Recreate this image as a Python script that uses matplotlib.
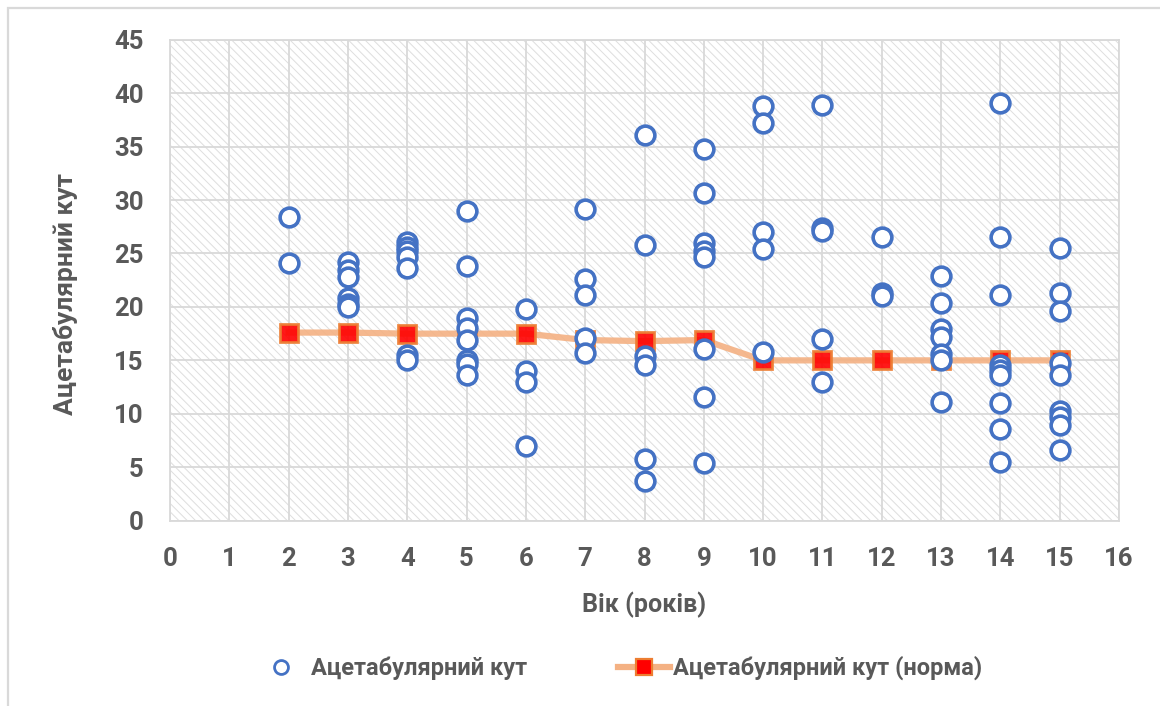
import matplotlib
matplotlib.use("Agg")
import matplotlib.pyplot as plt
from matplotlib.lines import Line2D
from matplotlib.patches import Rectangle

# Observed acetabular angles by age (years)
obs_age = ([2] * 2 + [3] * 6 + [4] * 7 + [5] * 8 + [6] * 4 + [7] * 5 + [8] * 6
           + [9] * 8 + [10] * 5 + [11] * 5 + [12] * 3 + [13] * 7 + [14] * 9 + [15] * 9)
obs_angle = [
    28.4, 24.1,
    24.2, 23.5, 22.8, 20.8, 20.3, 20.0,
    26.1, 25.6, 25.2, 24.7, 23.6, 15.5, 15.0,
    29.0, 23.8, 19.0, 18.0, 16.9, 15.0, 14.7, 13.6,
    19.8, 14.0, 13.0, 7.0,
    29.2, 22.6, 21.1, 17.1, 15.7,
    36.1, 25.8, 15.4, 14.6, 5.8, 3.7,
    34.8, 30.7, 26.0, 25.2, 24.7, 16.1, 11.6, 5.4,
    38.8, 37.2, 27.0, 25.4, 15.8,
    38.9, 27.4, 27.1, 17.0, 13.0,
    26.5, 21.3, 21.0,
    22.9, 20.4, 17.9, 17.2, 15.6, 15.0, 11.1,
    39.1, 26.5, 21.1, 14.6, 14.1, 13.6, 11.0, 8.6, 5.5,
    25.5, 21.3, 19.6, 14.8, 13.6, 10.3, 9.7, 9.0, 6.6,
]

# Normal values by age
norm_age = [2, 3, 4, 5, 6, 7, 8, 9, 10, 11, 12, 13, 14, 15]
norm_angle = [17.6, 17.6, 17.5, 17.5, 17.5, 16.9, 16.8, 16.9, 15.0, 15.0, 15.0, 15.0, 15.0, 15.0]

x_ticks = list(range(0, 17))
y_ticks = list(range(0, 46, 5))

label_scatter = "Ацетабулярний кут"
label_norm = "Ацетабулярний кут (норма)"
x_title = "Вік (років)"
y_title = "Ацетабулярний кут"

FONT = ["Roboto", "DejaVu Sans"]
TEXT_COLOR = "#595959"
GRID_COLOR = "#d9d9d9"
HATCH_COLOR = "#dedede"
BLUE = "#4472C4"
ORANGE = "#ED7D31"
LINE_ORANGE = "#F4B183"

plt.rcParams["font.family"] = FONT
plt.rcParams["hatch.linewidth"] = 0.7

fig = plt.figure(figsize=(11.6, 7.06), dpi=100)
W, H = 1160, 706

# chart frame (left and top edges)
fig.add_artist(Rectangle((8 / W, -0.05), 1.2, 1 - 8 / H + 0.05, transform=fig.transFigure,
                         fill=False, edgecolor=GRID_COLOR, linewidth=1.6))

left, right, top, bottom = 170, 1119, 39.7, 520.7
ax = fig.add_axes([left / W, 1 - bottom / H, (right - left) / W, (bottom - top) / H])
ax.set_xlim(0, 16)
ax.set_ylim(0, 45)

# hatched plot-area fill
ax.add_patch(Rectangle((0, 0), 1, 1, transform=ax.transAxes, facecolor="white",
                       edgecolor=HATCH_COLOR, linewidth=0, hatch="\\\\\\\\", zorder=0))

ax.set_xticks(x_ticks)
ax.set_yticks(y_ticks)
ax.grid(True, color=GRID_COLOR, linewidth=1.3, zorder=1)
ax.set_axisbelow(True)
for s in ax.spines.values():
    s.set_color(GRID_COLOR)
    s.set_linewidth(1.3)
ax.tick_params(length=0, labelsize=18.5, labelcolor=TEXT_COLOR, pad=19)
for lbl in ax.get_xticklabels() + ax.get_yticklabels():
    lbl.set_fontweight("bold")

ax.plot(norm_age, norm_angle, color=LINE_ORANGE, linewidth=4.5, alpha=0.9,
        marker="s", markersize=13, markerfacecolor="#FF0000",
        markeredgecolor=ORANGE, markeredgewidth=2.0, zorder=3, clip_on=False)
ax.plot(obs_age, obs_angle, linestyle="none", marker="o", markersize=13.5,
        markerfacecolor="white", markeredgecolor=BLUE, markeredgewidth=2.6,
        zorder=4, clip_on=False)

fig.text(644 / W, 1 - 605 / H, x_title, ha="center", va="center", fontsize=18,
         fontweight="bold", color=TEXT_COLOR)
fig.text(66 / W, 1 - 294 / H, y_title, ha="center", va="center", rotation=90,
         fontsize=19, fontweight="bold", color=TEXT_COLOR)

h1 = Line2D([], [], linestyle="none", marker="o", markersize=10, markerfacecolor="white",
            markeredgecolor=BLUE, markeredgewidth=2.0)
h2 = Line2D([], [], color=LINE_ORANGE, linewidth=4.5, marker="s", markersize=12,
            markerfacecolor="#FF0000", markeredgecolor=ORANGE, markeredgewidth=1.6)
leg = fig.legend([h1, h2], [label_scatter, label_norm], loc="center",
                 bbox_to_anchor=(619 / W, 1 - 668 / H), ncol=2, frameon=False,
                 handlelength=2.2, handletextpad=0.15, columnspacing=3.85,
                 prop={"family": FONT, "weight": "bold", "size": 17})
for t in leg.get_texts():
    t.set_color(TEXT_COLOR)

fig.savefig("out.png", dpi=100, facecolor="white")
